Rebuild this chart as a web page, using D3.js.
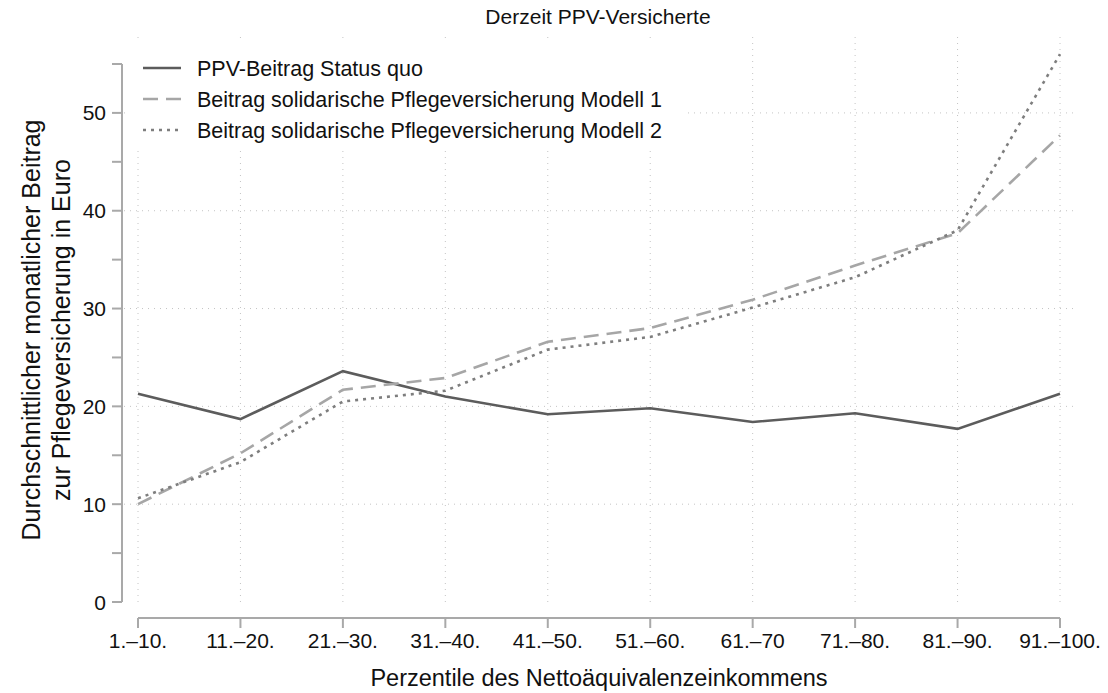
<!DOCTYPE html>
<html lang="de">
<head>
    <meta charset="UTF-8">
    <title>Derzeit PPV-Versicherte</title>
    <script src="https://d3js.org/d3.v7.min.js"></script>
    <style>
        body { margin: 0; background: #fff; }
        text { font-family: "Liberation Sans", Arial, Helvetica, sans-serif; fill: #111; }
        .grid line { stroke: #c4c4c4; stroke-width: 1; stroke-dasharray: 1 5; }
        .axis-line { stroke: #a9a9a9; stroke-width: 2; fill: none; }
    </style>
</head>
<body>
<svg id="chart" width="1108" height="693"></svg>
<script>
    // categories (income percentiles)
    const categories = ["1.–10.", "11.–20.", "21.–30.", "31.–40.", "41.–50.",
                        "51.–60.", "61.–70", "71.–80.", "81.–90.", "91.–100."];

    // series values (Euro per month)
    const statusQuo = [21.3, 18.7, 23.6, 21.0, 19.2, 19.8, 18.4, 19.3, 17.7, 21.3];
    const modell1   = [10.0, 15.2, 21.7, 22.9, 26.6, 28.0, 30.9, 34.4, 37.7, 47.7];
    const modell2   = [10.6, 14.3, 20.5, 21.6, 25.8, 27.1, 30.1, 33.2, 38.0, 56.0];

    const seriesNames = ["PPV-Beitrag Status quo",
                         "Beitrag solidarische Pflegeversicherung Modell 1",
                         "Beitrag solidarische Pflegeversicherung Modell 2"];

    const yTicks = [0, 10, 20, 30, 40, 50];
    const yMinorTicks = [5, 15, 25, 35, 45, 55];

    const series = [
        { name: seriesNames[0], values: statusQuo, color: "#5c5c5c", dash: null },
        { name: seriesNames[1], values: modell1, color: "#a6a6a6", dash: "15 8" },
        { name: seriesNames[2], values: modell2, color: "#7e7e7e", dash: "3 5" }
    ];

    const svg = d3.select("#chart");

    const x = d3.scalePoint().domain(categories).range([138, 1060]);
    const y = d3.scaleLinear().domain([0, 55]).range([602, 64]);

    // gridlines
    const grid = svg.append("g").attr("class", "grid");
    grid.selectAll(".hgrid")
        .data(yTicks.slice(1))
        .enter()
        .append("line")
        .attr("x1", 124)
        .attr("x2", 1078)
        .attr("y1", d => y(d))
        .attr("y2", d => y(d));
    grid.selectAll(".vgrid")
        .data(categories)
        .enter()
        .append("line")
        .attr("x1", d => x(d))
        .attr("x2", d => x(d))
        .attr("y1", 37)
        .attr("y2", 602);

    // y axis
    const yAxis = svg.append("g").attr("transform", "translate(122,0)");
    yAxis.append("line").attr("class", "axis-line")
        .attr("x1", 0).attr("x2", 0).attr("y1", y(55)).attr("y2", y(0));
    yAxis.selectAll(".ytick")
        .data(yTicks.concat(yMinorTicks))
        .enter()
        .append("line")
        .attr("class", "axis-line")
        .attr("x1", -10).attr("x2", 0)
        .attr("y1", d => y(d)).attr("y2", d => y(d));
    yAxis.selectAll(".ylabel")
        .data(yTicks)
        .enter()
        .append("text")
        .attr("x", -16)
        .attr("y", d => y(d))
        .attr("dy", "0.36em")
        .attr("text-anchor", "end")
        .attr("font-size", "21px")
        .text(d => d);

    // x axis
    const xAxis = svg.append("g").attr("transform", "translate(0,618)");
    xAxis.append("line").attr("class", "axis-line")
        .attr("x1", x(categories[0])).attr("x2", x(categories[categories.length - 1]))
        .attr("y1", 0).attr("y2", 0);
    xAxis.selectAll(".xtick")
        .data(categories)
        .enter()
        .append("line")
        .attr("class", "axis-line")
        .attr("x1", d => x(d)).attr("x2", d => x(d))
        .attr("y1", 0).attr("y2", 10);
    xAxis.selectAll(".xlabel")
        .data(categories)
        .enter()
        .append("text")
        .attr("x", d => x(d))
        .attr("y", 30)
        .attr("text-anchor", "middle")
        .attr("font-size", "21px")
        .text(d => d);

    // lines
    const line = d3.line()
        .x((d, i) => x(categories[i]))
        .y(d => y(d));

    svg.selectAll(".series")
        .data(series)
        .enter()
        .append("path")
        .attr("d", d => line(d.values))
        .attr("fill", "none")
        .attr("stroke", d => d.color)
        .attr("stroke-width", 2.6)
        .attr("stroke-dasharray", d => d.dash);

    // legend (white box over the grid)
    const legend = svg.append("g");
    legend.append("rect")
        .attr("x", 129).attr("y", 41)
        .attr("width", 558).attr("height", 108)
        .attr("fill", "#fff");
    const item = legend.selectAll(".item")
        .data(series)
        .enter()
        .append("g")
        .attr("transform", (d, i) => `translate(0,${68 + i * 31})`);
    item.append("line")
        .attr("x1", 143).attr("x2", 181)
        .attr("y1", 0).attr("y2", 0)
        .attr("stroke", d => d.color)
        .attr("stroke-width", 2.6)
        .attr("stroke-dasharray", d => d.dash);
    item.append("text")
        .attr("x", 197)
        .attr("y", 0)
        .attr("dy", "0.36em")
        .attr("font-size", "21.5px")
        .text(d => d.name);

    // titles
    svg.append("text")
        .attr("x", 598).attr("y", 24)
        .attr("text-anchor", "middle")
        .attr("font-size", "21px")
        .text("Derzeit PPV-Versicherte");

    svg.append("text")
        .attr("x", 599).attr("y", 686)
        .attr("text-anchor", "middle")
        .attr("font-size", "23.5px")
        .text("Perzentile des Nettoäquivalenzeinkommens");

    const yTitle = svg.append("text")
        .attr("transform", "translate(0,330) rotate(-90)")
        .attr("text-anchor", "middle")
        .attr("font-size", "25px");
    yTitle.append("tspan").attr("x", 0).attr("y", 40)
        .text("Durchschnittlicher monatlicher Beitrag");
    yTitle.append("tspan").attr("x", 0).attr("y", 70)
        .text("zur Pflegeversicherung in Euro");
</script>
</body>
</html>
